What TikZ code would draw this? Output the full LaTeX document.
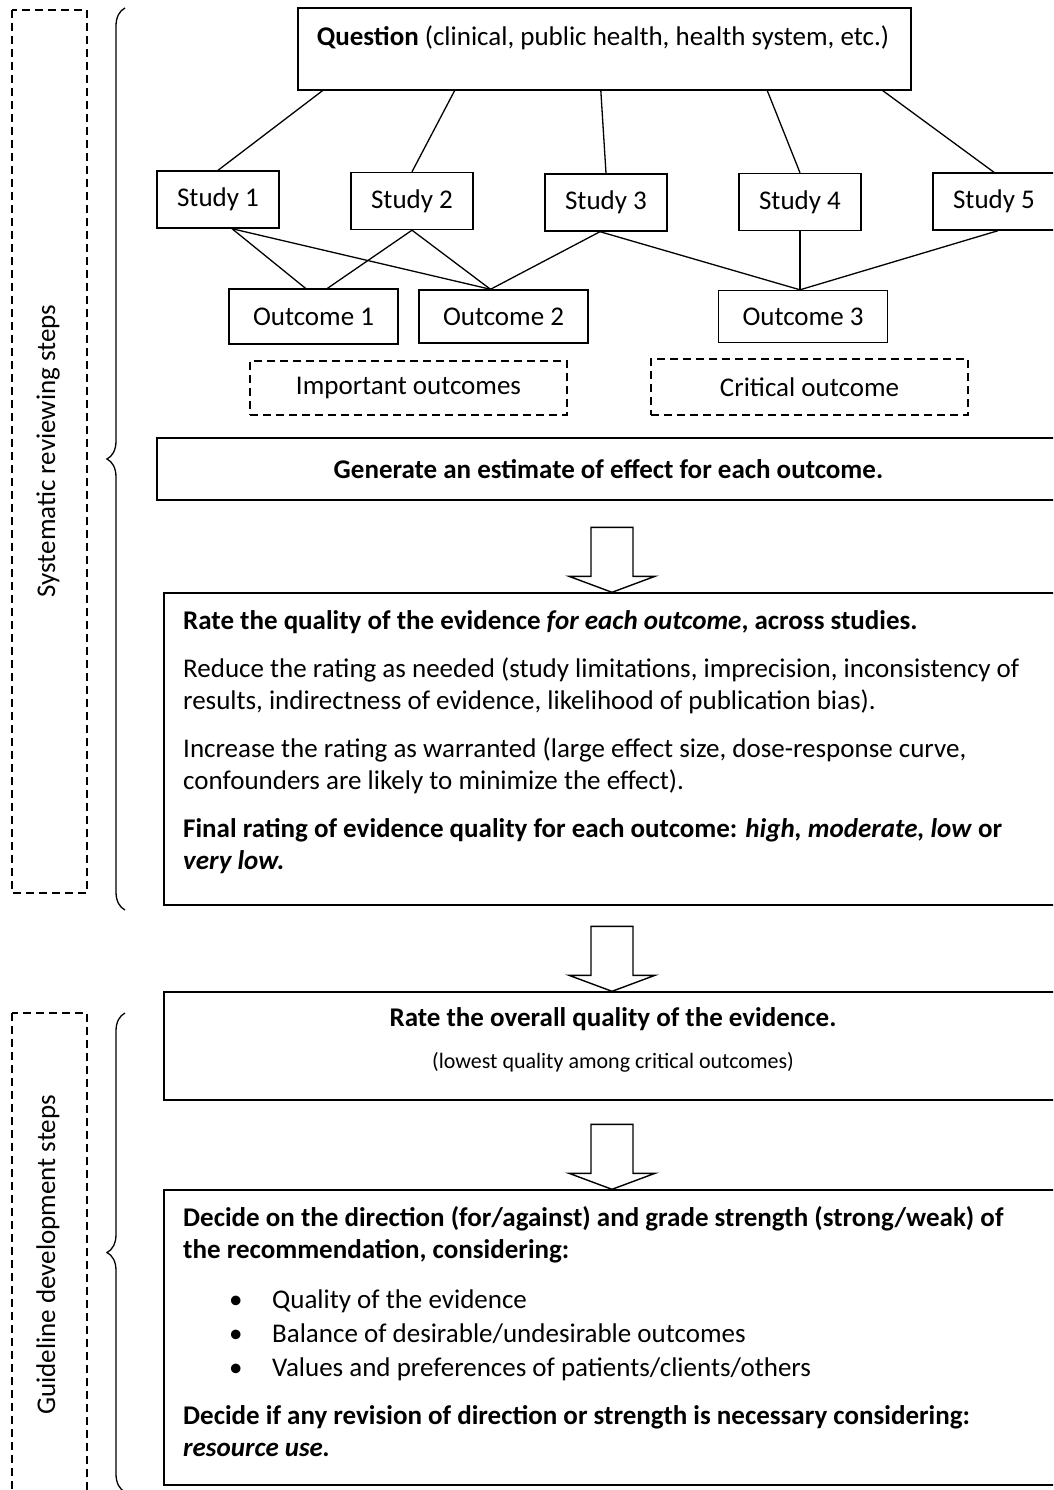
\documentclass[tikz,border=0pt]{standalone}
\usepackage{fontspec}
\setmainfont{Carlito}
\usetikzlibrary{decorations.pathreplacing}

\begin{document}
\begin{tikzpicture}[x=1pt, y=-1pt,
    box/.style={draw, line width=1.4pt, rectangle, inner sep=0pt},
    sideline/.style={line width=1.2pt, dash pattern=on 8pt off 5pt},
    dashbox/.style={draw, sideline, rectangle, inner sep=0pt},
    txt/.style={font=\fontsize{27}{32}\selectfont},
    smalltxt/.style={font=\fontsize{22}{26}\selectfont},
    link/.style={line width=1.3pt},
    bigarrow/.style={draw, line width=1.4pt, fill=white, line join=miter}]

    \useasboundingbox (0,0) rectangle (1053,1490);
    \clip (0,0) rectangle (1053,1490);

    % Pregunta
    \node[box, minimum width=613pt, minimum height=82pt] (question) at (604.5,49) {};
    \node[txt] (qlabel) at (603,38) {\textbf{Question} (clinical, public health, health system, etc.)};

    % Estudios
    \foreach \n/\x/\y in {1/218/199.5, 2/412/201, 3/606/202.5, 4/800/202, 5/994/201.5}
        \node[box, txt, minimum width=122pt, minimum height=57pt] (study\n) at (\x,\y) {Study \n};

    % Lineas pregunta - estudios
    \path (question.south west) -- (question.south east)
        coordinate[pos=0.041] (q1) coordinate[pos=0.256] (q2) coordinate[pos=0.494] (q3)
        coordinate[pos=0.765] (q4) coordinate[pos=0.953] (q5);
    \foreach \n in {1,...,5}
        \draw[link] (q\n) -- (study\n.north);

    % Resultados
    \node[box, txt, minimum width=169pt, minimum height=55pt] (outcome1) at (313.5,316.5) {Outcome 1};
    \node[box, txt, minimum width=169pt, minimum height=53pt] (outcome2) at (503.5,316.5) {Outcome 2};
    \node[box, txt, minimum width=169pt, minimum height=52pt] (outcome3) at (803,316.5) {Outcome 3};

    % Lineas estudios - resultados
    \draw[link] ([xshift=14pt]study1.south) -- ([xshift=-8pt]outcome1.north);
    \draw[link] ([xshift=14pt]study1.south) -- ([xshift=-13pt]outcome2.north);
    \draw[link] (study2.south) -- ([xshift=14pt]outcome1.north);
    \draw[link] (study2.south) -- ([xshift=-13pt]outcome2.north);
    \draw[link] ([xshift=-6pt]study3.south) -- ([xshift=-13pt]outcome2.north);
    \draw[link] ([xshift=-6pt]study3.south) -- ([xshift=-3pt]outcome3.north);
    \draw[link] (study4.south) -- ([xshift=-3pt]outcome3.north);
    \draw[link] ([xshift=4pt]study5.south) -- ([xshift=-3pt]outcome3.north);

    % Grupos de resultados
    \node[dashbox, txt, minimum width=317pt, minimum height=54pt] (important) at (408.5,388) {Important outcomes};
    \node[dashbox, txt, minimum width=317pt, minimum height=56pt] (critical) at (809.5,387) {Critical outcome};

    % Cajas grandes
    \node[box, txt, minimum width=903pt, minimum height=62pt] (estimate) at (608.5,469)
        {\textbf{Generate an estimate of effect for each outcome.}};
    \node[box, minimum width=896pt, minimum height=312pt] (ratebox) at (612,749) {};
    \node[txt, anchor=north west, align=left, inner sep=0pt] (ratetext) at (183,610)
        {\textbf{Rate the quality of the evidence \textit{for each outcome}, across studies.}\\[16pt]
         Reduce the rating as needed (study limitations, imprecision, inconsistency of\\
         results, indirectness of evidence, likelihood of publication bias).\\[16pt]
         Increase the rating as warranted (large effect size, dose-response curve,\\
         confounders are likely to minimize the effect).\\[16pt]
         \textbf{Final rating of evidence quality for each outcome: \textit{high, moderate, low} or}\\
         \textbf{\textit{very low.}}};

    \node[box, minimum width=896pt, minimum height=108pt] (overallbox) at (612,1046) {};
    \node[txt] (overalltext) at (613,1019) {\textbf{Rate the overall quality of the evidence.}};
    \node[smalltxt] (overallnote) at (613,1062) {(lowest quality among critical outcomes)};

    \node[box, minimum width=896pt, minimum height=295pt] (decidebox) at (612,1337.5) {};
    \node[txt, anchor=north west, align=left, inner sep=0pt] (decidetext) at (183,1206)
        {\textbf{Decide on the direction (for/against) and grade strength (strong/weak) of}\\
         \textbf{the recommendation, considering:}\\[18pt]
         \hspace*{46pt}\makebox[43pt][l]{\textbullet}Quality of the evidence\\[2pt]
         \hspace*{46pt}\makebox[43pt][l]{\textbullet}Balance of desirable/undesirable outcomes\\[2pt]
         \hspace*{46pt}\makebox[43pt][l]{\textbullet}Values and preferences of patients/clients/others\\[16pt]
         \textbf{Decide if any revision of direction or strength is necessary considering:}\\
         \textbf{\textit{resource use.}}};

    % Flechas
    \foreach \target in {ratebox, overallbox, decidebox}
        \draw[bigarrow] (\target.north) -- ++(43,-16) -- ++(-22,0) -- ++(0,-49)
            -- ++(-42,0) -- ++(0,49) -- ++(-22,0) -- cycle;

    % Pasos (izquierda)
    \draw[sideline] (12,10) rectangle (87,893);
    \draw[sideline] (12,1013) rectangle (87,1500);
    \node[txt, rotate=90] (syslabel) at (48,451) {Systematic reviewing steps};
    \node[txt, rotate=90] (guidelabel) at (48,1255) {Guideline development steps};

    % Llaves
    \draw[link, decorate, decoration={brace, amplitude=18pt}] (125,910) -- (125,8);
    \draw[link, decorate, decoration={brace, amplitude=18pt}] (125,1492) -- (125,1013);
\end{tikzpicture}
\end{document}
